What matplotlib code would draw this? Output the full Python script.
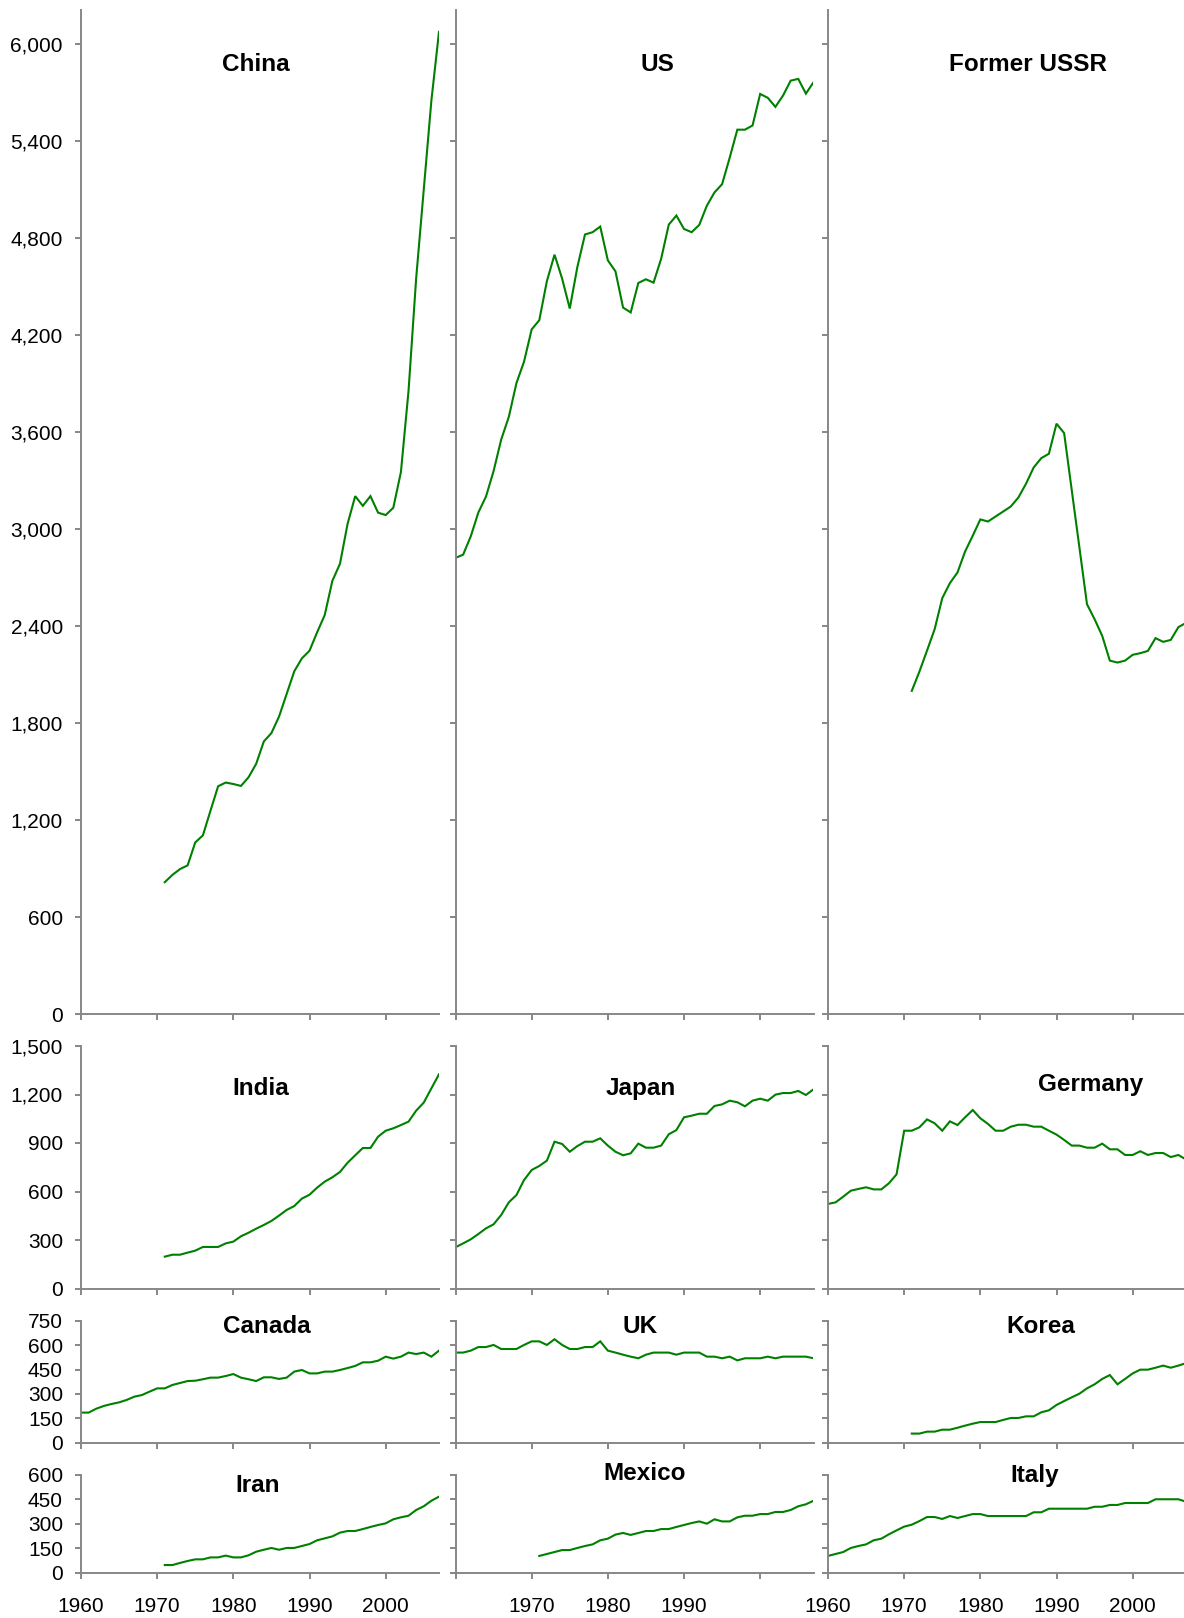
import matplotlib
matplotlib.use("Agg")
import matplotlib.pyplot as plt
from matplotlib.ticker import FuncFormatter, FixedLocator
import numpy as np

plt.rcParams['font.family'] = ['Liberation Sans', 'DejaVu Sans']

# CO2 emissions from fuel combustion (Mt CO2)
years_oecd = list(range(1960, 2008))
years_nonoecd = list(range(1971, 2008))

china = [817, 862, 898, 921, 1063, 1106, 1259, 1410, 1433, 1424,
         1412, 1466, 1549, 1687, 1739, 1841, 1981, 2121, 2201, 2248,
         2362, 2469, 2680, 2786, 3033, 3204, 3144, 3204, 3102, 3087,
         3132, 3353, 3855, 4550, 5100, 5650, 6075]
us = [2822, 2842, 2955, 3103, 3201, 3359, 3554, 3694, 3903, 4036,
      4235, 4292, 4534, 4697, 4549, 4364, 4621, 4822, 4836, 4871,
      4662, 4594, 4370, 4340, 4522, 4545, 4524, 4672, 4883, 4939,
      4856, 4836, 4881, 5000, 5082, 5133, 5297, 5470, 5470, 5496,
      5691, 5667, 5611, 5681, 5773, 5784, 5693, 5763]
former_ussr = [2000, 2119, 2249, 2381, 2573, 2666, 2732, 2862, 2959, 3060,
               3047, 3078, 3109, 3140, 3196, 3281, 3381, 3439, 3466, 3652,
               3594, 3241, 2889, 2536, 2443, 2340, 2187, 2175, 2187, 2223,
               2233, 2247, 2326, 2303, 2315, 2394, 2420]
india = [197, 209, 209, 222, 234, 257, 257, 257, 279, 290,
         323, 345, 370, 393, 418, 451, 486, 510, 556, 580,
         624, 661, 688, 721, 778, 824, 869, 869, 939, 976,
         991, 1011, 1032, 1100, 1150, 1238, 1325]
japan = [255, 279, 304, 337, 372, 397, 455, 533, 578, 671,
         733, 758, 791, 908, 894, 846, 881, 908, 908, 929,
         884, 846, 824, 836, 896, 871, 871, 884, 954, 980,
         1059, 1069, 1081, 1081, 1129, 1139, 1162, 1152, 1127, 1162,
         1174, 1162, 1199, 1209, 1209, 1222, 1197, 1232]
germany = [523, 533, 568, 605, 616, 626, 613, 613, 651, 706,
           976, 976, 997, 1046, 1022, 976, 1034, 1011, 1059, 1104,
           1053, 1018, 976, 976, 1001, 1013, 1013, 1001, 1001, 976,
           952, 919, 884, 884, 871, 871, 896, 861, 861, 826,
           826, 849, 826, 838, 838, 813, 826, 798]
canada = [185, 185, 209, 226, 238, 248, 263, 283, 293, 314,
          334, 334, 355, 367, 379, 381, 390, 400, 400, 410,
          422, 400, 390, 379, 402, 402, 392, 400, 437, 447,
          426, 426, 437, 437, 447, 459, 472, 494, 494, 504,
          529, 517, 529, 554, 545, 554, 529, 566]
uk = [554, 554, 566, 588, 588, 601, 576, 576, 576, 601,
      623, 623, 601, 636, 601, 576, 576, 588, 588, 623,
      566, 554, 541, 529, 519, 541, 554, 554, 554, 541,
      554, 554, 554, 529, 529, 519, 529, 506, 519, 519,
      519, 529, 519, 529, 529, 529, 529, 519]
korea = [56, 56, 68, 68, 80, 80, 92, 105, 117, 127,
         127, 127, 140, 152, 152, 162, 162, 187, 199, 232,
         256, 279, 301, 334, 359, 392, 416, 359, 392, 426,
         449, 449, 461, 474, 461, 474, 489]
iran = [47, 47, 60, 72, 82, 82, 94, 94, 105, 94,
        94, 107, 129, 141, 152, 141, 152, 152, 164, 176,
        199, 211, 223, 246, 256, 256, 268, 281, 293, 303,
        328, 340, 350, 385, 408, 442, 467]
mexico = [103, 115, 127, 139, 139, 152, 164, 174, 199, 209,
          234, 244, 232, 244, 256, 256, 268, 268, 281, 293,
          305, 315, 301, 328, 315, 315, 340, 350, 350, 360,
          360, 373, 373, 385, 408, 420, 442]
italy = [103, 115, 127, 152, 164, 174, 199, 209, 236, 260,
         283, 295, 317, 342, 342, 330, 348, 336, 348, 360,
         360, 348, 348, 348, 348, 348, 348, 371, 371, 393,
         393, 393, 393, 393, 393, 405, 405, 416, 416, 428,
         428, 428, 428, 451, 451, 451, 451, 436]

x_ticks = [1960, 1970, 1980, 1990, 2000]
x_labels_by_col = [
    ["1960", "1970", "1980", "1990", "2000"],
    ["", "1970", "1980", "1990", ""],
    ["1960", "1970", "1980", "1990", "2000"],
]

# Panel grid: rows share a y range, columns share the year axis
rows = [
    dict(top=10, bottom=1014.3, ymax=6210, step=600,
         panels=[("China", china, years_nonoecd, 255.5, 70.7),
                 ("US", us, years_oecd, 657.5, 70.7),
                 ("Former USSR", former_ussr, years_nonoecd, 1027.5, 70.7)]),
    dict(top=1046, bottom=1288.5, ymax=1500, step=300,
         panels=[("India", india, years_nonoecd, 261, 1095),
                 ("Japan", japan, years_oecd, 641, 1095),
                 ("Germany", germany, years_oecd, 1090.5, 1091)]),
    dict(top=1320.7, bottom=1442.7, ymax=750, step=150,
         panels=[("Canada", canada, years_oecd, 267, 1333),
                 ("UK", uk, years_oecd, 640, 1333),
                 ("Korea", korea, years_nonoecd, 1041, 1333)]),
    dict(top=1475, bottom=1572.7, ymax=600, step=150,
         panels=[("Iran", iran, years_nonoecd, 258, 1492),
                 ("Mexico", mexico, years_nonoecd, 644.5, 1480),
                 ("Italy", italy, years_oecd, 1034.5, 1482)]),
]

W, H = 1184, 1618
col_left = [81, 455.5, 828]
col_width = 358
axis_grey = "#878787"
line_green = "#008000"

fig = plt.figure(figsize=(W / 100, H / 100), dpi=100)
fig.patch.set_facecolor("white")

thousands = FuncFormatter(lambda v, p: f"{int(v):,}")

for r, row in enumerate(rows):
    for c, (name, values, yrs, tx, ty) in enumerate(row["panels"]):
        ax = fig.add_axes([col_left[c] / W, 1 - row["bottom"] / H,
                           col_width / W, (row["bottom"] - row["top"]) / H])
        ax.plot(yrs, values, color=line_green, lw=1.5, solid_joinstyle="miter",
                clip_on=True)
        ax.set_xlim(1960, 2007)
        ax.set_ylim(0, row["ymax"])
        ax.yaxis.set_major_locator(FixedLocator(
            list(range(0, int(row["ymax"]) + 1, row["step"]))))
        ax.yaxis.set_major_formatter(thousands)
        ax.xaxis.set_major_locator(FixedLocator(x_ticks))
        for s in ("top", "right"):
            ax.spines[s].set_visible(False)
        for s in ("left", "bottom"):
            ax.spines[s].set_color(axis_grey)
            ax.spines[s].set_linewidth(1.4)
        ax.tick_params(axis="both", direction="out", length=4.5, width=1.4,
                       color=axis_grey, labelsize=15, labelcolor="black")
        ax.tick_params(axis="y", pad=8.5)
        ax.tick_params(axis="x", pad=13)
        if c != 0:
            ax.tick_params(axis="y", labelleft=False)
        if r == len(rows) - 1:
            ax.set_xticklabels(x_labels_by_col[c])
        else:
            ax.tick_params(axis="x", labelbottom=False)
        ax.set_facecolor("none")
        fig.text(tx / W, 1 - ty / H, name, ha="center", va="baseline",
                 fontsize=17.5, fontweight="bold", color="black")

fig.savefig("out.png", dpi=100, facecolor="white")
